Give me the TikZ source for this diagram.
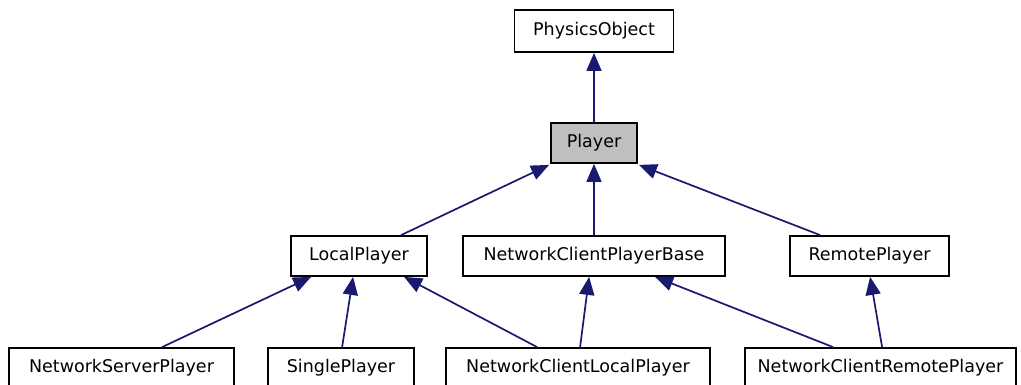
\documentclass[tikz,border=0pt]{standalone}
\usepackage{fontspec}
\setmainfont{DejaVu Sans}
\usetikzlibrary{arrows.meta,calc}
\definecolor{edgeblue}{HTML}{191970}
\definecolor{hlgray}{HTML}{BFBFBF}
\tikzset{
  cls/.style={draw=black, line width=1.8pt, fill=white, minimum height=40pt, inner sep=0pt,
    font=\fontsize{17.5}{20}\selectfont, text=black},
  inh/.style={draw=edgeblue, line width=1.7pt, -{Triangle[length=18pt,width=15pt]}, fill=edgeblue}
}
\begin{document}
\begin{tikzpicture}[x=1pt,y=-1pt]
\useasboundingbox (0,0) rectangle (1021,385);
\node[cls, minimum width=159pt, minimum height=42pt] (phys) at (594,31) {PhysicsObject};
\node[cls, minimum width=86pt, fill=hlgray] (player) at (594,143) {Player};
\node[cls, minimum width=136pt] (local) at (359,256) {LocalPlayer};
\node[cls, minimum width=262pt] (ncpb) at (594,256) {NetworkClientPlayerBase};
\node[cls, minimum width=159pt] (remote) at (869.5,256) {RemotePlayer};
\node[cls, minimum width=225pt] (nsp) at (121.5,368) {NetworkServerPlayer};
\node[cls, minimum width=146pt] (single) at (341,368) {SinglePlayer};
\node[cls, minimum width=264pt] (nclp) at (578,368) {NetworkClientLocalPlayer};
\node[cls, minimum width=271pt] (ncrp) at (880.5,368) {NetworkClientRemotePlayer};

\draw[inh] (player.north) -- (phys.south);
\draw[inh] ($(local.north west)+(111,0)$) -- ($(player.south west)+(-1,1)$);
\draw[inh] (ncpb.north) -- (player.south);
\draw[inh] ($(remote.north west)+(31,0)$) -- ($(player.south east)+(1,1)$);
\draw[inh] ($(nsp.north west)+(154,0)$) -- ($(local.south west)+(21,0)$);
\draw[inh] ($(single.north west)+(75,0)$) -- ($(local.south west)+(63,0)$);
\draw[inh] ($(nclp.north west)+(92,0)$) -- ($(local.south west)+(114,0)$);
\draw[inh] ($(nclp.north west)+(135,0)$) -- ($(ncpb.south west)+(127,0)$);
\draw[inh] ($(ncrp.north west)+(89,0)$) -- ($(ncpb.south west)+(193,0)$);
\draw[inh] ($(ncrp.north west)+(138,0)$) -- ($(remote.south west)+(81,0)$);
\end{tikzpicture}
\end{document}
